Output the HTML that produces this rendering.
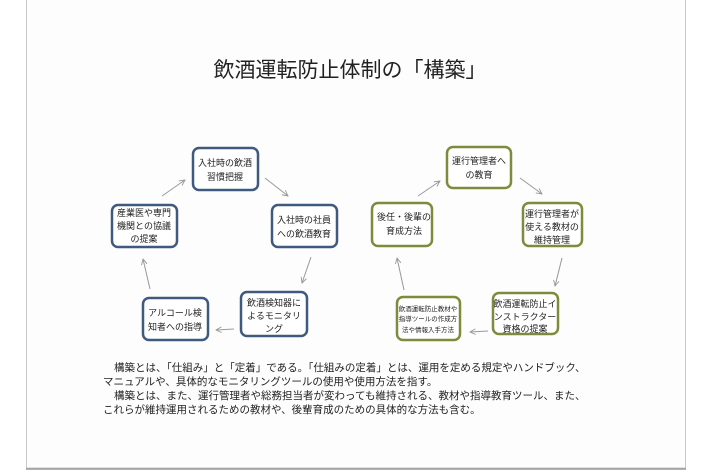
<!DOCTYPE html>
<html><head><meta charset="utf-8"><style>
html,body{margin:0;padding:0;background:#fff;}
svg{display:block;}
text{font-family:"Liberation Sans","Noto Sans CJK JP",sans-serif;fill:#222;}
</style></head><body>
<svg width="710" height="474" viewBox="0 0 710 474" xmlns="http://www.w3.org/2000/svg">
<defs>
<marker id="a" viewBox="0 0 10 10" refX="9" refY="5" markerWidth="7" markerHeight="7" orient="auto"><path d="M1,1 L9,5 L1,9" fill="none" stroke="#999" stroke-width="1.3"/></marker>
</defs>
<rect x="0" y="0" width="710" height="474" fill="#fff"/>
<rect x="26.5" y="-2" width="659" height="470" fill="#fdfdfd" stroke="#c8c8c8" stroke-width="1"/>
<line x1="26" y1="469" x2="686" y2="469" stroke="#999" stroke-width="1.5"/>
<text x="350" y="77" font-size="21" text-anchor="middle">飲酒運転防止体制の「構築」</text>

<g fill="#fff" stroke="#3f5a7e" stroke-width="2.5">
<rect x="193" y="148" width="65" height="42" rx="6"/>
<rect x="272" y="205" width="65" height="42" rx="6"/>
<rect x="241" y="292" width="66" height="44" rx="6"/>
<rect x="143" y="298" width="65" height="42" rx="6"/>
<rect x="112" y="205" width="65" height="42" rx="6"/>
</g>
<g font-size="9" text-anchor="middle">
<text x="225" y="166">入社時の飲酒</text><text x="225" y="180">習慣把握</text>
<text x="304" y="223">入社時の社員</text><text x="304" y="237">への飲酒教育</text>
<text x="274" y="306">飲酒検知器に</text><text x="274" y="319">よるモニタリ</text><text x="274" y="332">ング</text>
<text x="175" y="316">アルコール検</text><text x="175" y="330">知者への指導</text>
<text x="144" y="216">産業医や専門</text><text x="144" y="229">機関との協議</text><text x="144" y="242">の提案</text>
</g>
<g stroke="#999" stroke-width="1" fill="none" marker-end="url(#a)">
<line x1="265" y1="178" x2="288" y2="196"/>
<line x1="311" y1="257" x2="302" y2="283"/>
<line x1="234" y1="329" x2="216" y2="330"/>
<line x1="150" y1="289" x2="143" y2="259"/>
<line x1="162" y1="196" x2="185" y2="180"/>
</g>

<g fill="#fff" stroke="#7d8c3c" stroke-width="2.5">
<rect x="447" y="147" width="64" height="41" rx="6"/>
<rect x="523" y="203" width="59" height="43" rx="6"/>
<rect x="493" y="293" width="65" height="41" rx="6"/>
<rect x="397" y="297" width="63" height="43" rx="6"/>
<rect x="372" y="203" width="60" height="43" rx="6"/>
</g>
<g font-size="9" text-anchor="middle">
<text x="479" y="164">運行管理者へ</text><text x="479" y="178">の教育</text>
<text x="552" y="217">運行管理者が</text><text x="552" y="230">使える教材の</text><text x="552" y="243">維持管理</text>
<text x="525" y="307">飲酒運転防止イ</text><text x="525" y="320">ンストラクター</text><text x="525" y="332">資格の提案</text>
<text x="428" y="311" font-size="6.5">飲酒運転防止教材や</text><text x="428" y="321" font-size="6.5">指導ツールの作成方</text><text x="428" y="332" font-size="6.5">法や情報入手方法</text>
<text x="404" y="220">後任・後輩の</text><text x="404" y="234">育成方法</text>
</g>
<g stroke="#999" stroke-width="1" fill="none" marker-end="url(#a)">
<line x1="520" y1="178" x2="542" y2="194"/>
<line x1="562" y1="258" x2="555" y2="286"/>
<line x1="488" y1="331" x2="470" y2="332"/>
<line x1="404" y1="290" x2="397" y2="258"/>
<line x1="418" y1="196" x2="440" y2="181"/>
</g>

<g font-size="10.5">
<text x="114" y="371">構築とは、「仕組み」と「定着」である。「仕組みの定着」とは、運用を定める規定やハンドブック、</text>
<text x="103" y="385">マニュアルや、具体的なモニタリングツールの使用や使用方法を指す。</text>
<text x="114" y="399">構築とは、また、運行管理者や総務担当者が変わっても維持される、教材や指導教育ツール、また、</text>
<text x="103" y="413">これらが維持運用されるための教材や、後輩育成のための具体的な方法も含む。</text>
</g>
</svg>
</body></html>
